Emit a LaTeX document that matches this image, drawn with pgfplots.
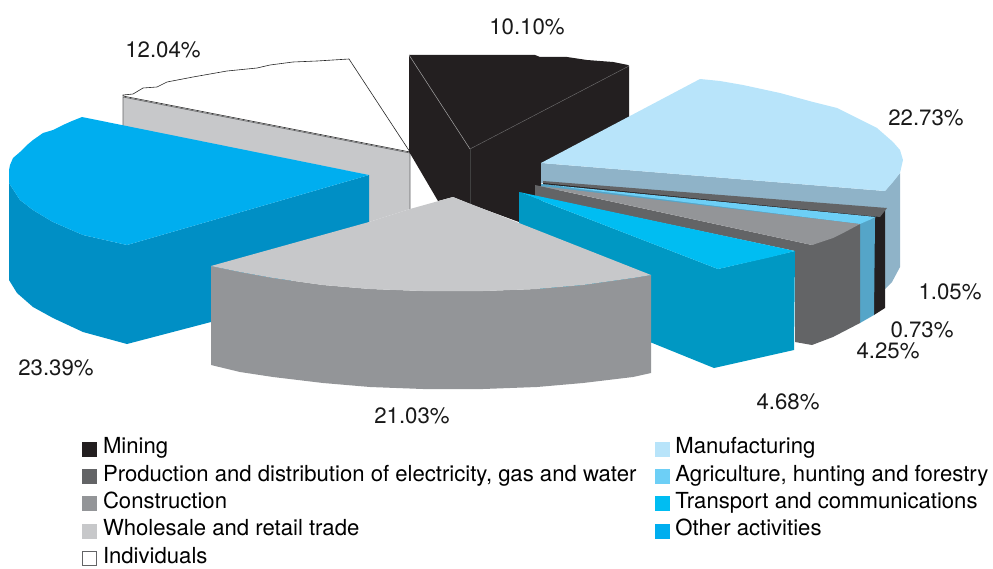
\documentclass[border=0pt]{standalone}
\usepackage{fontspec}
\setmainfont{TeX Gyre Heros}
\usepackage{pgfplots}
\pgfplotsset{compat=1.18}
\definecolor{cMining}{HTML}{231F20}
\definecolor{cManuf}{HTML}{B8E4FA}
\definecolor{cManufS}{HTML}{8FB3C8}
\definecolor{cProd}{HTML}{636466}
\definecolor{cAgri}{HTML}{6DCFF6}
\definecolor{cAgriS}{HTML}{55A5C8}
\definecolor{cCons}{HTML}{939598}
\definecolor{cTrans}{HTML}{00BDF2}
\definecolor{cTransS}{HTML}{0098C3}
\definecolor{cWhole}{HTML}{C7C8CA}
\definecolor{cOther}{HTML}{00AEEF}
\definecolor{cOtherS}{HTML}{008FC5}
\pgfplotsset{
  swatch/.style={legend image code/.code={
    \path[draw=none,fill=none] (0bp,0bp) -- (21bp,0bp);
    \draw[##1] (0.5bp,-7bp) rectangle (14.5bp,7bp);}},
}
\tikzset{pct/.style={font=\fontsize{22.3}{24}\selectfont,text=black!90,inner sep=0pt}}
\begin{document}
\begin{tikzpicture}
\begin{axis}[
  scale only axis,
  width=993bp, height=565bp,
  xmin=0, xmax=993, ymin=0, ymax=565,
  y dir=reverse,
  axis lines=none,
  clip=false,
  legend columns=2,
  legend cell align=left,
  legend style={
    at={(axis cs:82,438.7)}, anchor=north west,
    draw=none, fill=none, inner sep=0pt, outer sep=0pt,
    font=\fontsize{22.2}{24}\selectfont,
    nodes={inner sep=0pt, text height=15bp, text depth=5bp},
    row sep=7.4bp,
    /tikz/every even column/.append style={column sep=18bp},
  },
]
\path (rel axis cs:0,0) rectangle (rel axis cs:1,1);
% Individuals
\addplot[fill=white, draw=black!85, line width=0.6pt, forget plot] coordinates {
  (123,95) (133,94) (143,88) (157,87) (167,82) (193,77) (227,71) (257,68) (270,65)
  (293,62) (317,61) (349,59) (410,152) (123,96)} -- cycle;
% Wholesale back wall
\addplot[fill=cWhole, draw=none, forget plot] coordinates {
  (123,97) (410,153) (410,209) (369,222) (369,175) (123,127)} -- cycle;
\addplot[draw=cProd, line width=0.7pt, forget plot] coordinates {(123,127) (123,97) (410,153) (410,209)};
% Other activities
\addplot[fill=cOtherS, draw=none, forget plot] coordinates {
  (9,183) (20,200) (33,210) (53,222) (83,235) (127,245) (369,175) (369,240) (211,322) (127,344)
  (83,332) (53,318) (33,307) (17,293) (9,280)} -- cycle;
\addplot[fill=cOther, draw=none, forget plot] coordinates {
  (82,117) (369,175) (127,245) (83,235) (53,222) (33,210) (20,200) (9,183) (9,170) (10,165) (13,158)
  (20,152) (27,145) (33,140) (43,133) (53,130) (63,125) (72,121)} -- cycle;
% Mining
\addplot[fill=cMining, draw=none, forget plot] coordinates {
  (409,55) (535,55) (540,57) (567,57) (587,60) (613,62) (628,65) (629,66) (629,125) (541,165) (541,205)
  (519,205) (519,222) (470,204) (453,197) (438,201) (411,155) (409,152)} -- cycle;
\addplot[draw=white!65!black, line width=0.5pt, forget plot] coordinates {(409,55) (470,149)};
\addplot[draw=white!45!black, line width=0.4pt, forget plot] coordinates {(470,149) (629,66)};
\addplot[draw=white!25!black, line width=0.4pt, forget plot] coordinates {(470,149) (470,204)};
% Manufacturing
\addplot[fill=cManufS, draw=none, forget plot] coordinates {
  (541,163) (885,191) (900,173) (900,267) (892,282) (884,290) (884,209) (541,183)} -- cycle;
\addplot[fill=cManuf, draw=none, forget plot] coordinates {
  (541,163) (700,79) (720,81) (743,85) (780,93) (813,102) (837,108) (857,118) (877,128)
  (893,142) (900,150) (903,160) (900,173) (893,182) (885,191)} -- cycle;
% Production and distribution
\addplot[fill=cMining, draw=none, forget plot] coordinates {
  (874,216) (885,208) (885,308) (874,315)} -- cycle;
\addplot[fill=cMining, draw=none, forget plot] coordinates {
  (543,182) (877,216) (877,219) (543,185)} -- cycle;
\addplot[fill=cProd, draw=none, forget plot] coordinates {
  (543,181) (887,208) (880,217) (543,183)} -- cycle;
% Agriculture
\addplot[fill=cAgriS, draw=none, forget plot] coordinates {
  (860,222) (875,218) (874,315) (860,323)} -- cycle;
\addplot[fill=cAgriS, draw=none, forget plot] coordinates {
  (541,184) (860,222) (860,226) (541,188)} -- cycle;
\addplot[fill=cAgri, draw=none, forget plot] coordinates {
  (541,184) (876,217) (860,224)} -- cycle;
% Construction
\addplot[fill=cProd, draw=none, forget plot] coordinates {
  (535,185) (812,245) (860,224) (860,323) (833,337) (812,345) (795,342) (795,251) (535,196)} -- cycle;
\addplot[fill=cCons, draw=none, forget plot] coordinates {
  (540,186) (860,224) (845,232) (833,238) (812,245)} -- cycle;
% Transport
\addplot[fill=cTransS, draw=none, forget plot] coordinates {
  (519,192) (718,269) (795,251) (794,350) (714,368) (640,338) (519,280)} -- cycle;
\addplot[fill=cTrans, draw=none, forget plot] coordinates {
  (519,192) (795,251) (767,258) (740,264) (718,269)} -- cycle;
% Wholesale
\addplot[fill=cCons, draw=none, forget plot] coordinates {
  (211,266) (240,272) (273,278) (323,285) (370,289) (423,291) (483,291) (537,289) (583,285) (633,278) (651,275)
  (651,373) (633,377) (583,383) (537,387) (483,389) (423,389) (370,387) (323,383) (273,377) (240,372) (211,365)} -- cycle;
\addplot[fill=cWhole, draw=none, forget plot] coordinates {
  (453,197) (651,275) (633,278) (583,285) (537,289) (483,291) (423,291) (370,289) (323,285) (273,278)
  (240,272) (211,266) (369,222) (410,209)} -- cycle;
% legend
\addlegendimage{swatch, fill=cMining, draw=cMining}
\addlegendentry{Mining}
\addlegendimage{swatch, fill=cManuf, draw=cManuf}
\addlegendentry{Manufacturing}
\addlegendimage{swatch, fill=cProd, draw=cProd}
\addlegendentry{Production and distribution of electricity, gas and water}
\addlegendimage{swatch, fill=cAgri, draw=cAgri}
\addlegendentry{Agriculture, hunting and forestry}
\addlegendimage{swatch, fill=cCons, draw=cCons}
\addlegendentry{Construction}
\addlegendimage{swatch, fill=cTrans, draw=cTrans}
\addlegendentry{Transport and communications}
\addlegendimage{swatch, fill=cWhole, draw=cWhole}
\addlegendentry{Wholesale and retail trade}
\addlegendimage{swatch, fill=cOther, draw=cOther}
\addlegendentry{Other activities}
\addlegendimage{swatch, fill=white, draw=cProd}
\addlegendentry{Individuals}
% shares
\node[pct] at (axis cs:527,27) {10.10\%};
\node[pct] at (axis cs:163,50) {12.04\%};
\node[pct] at (axis cs:926,118) {22.73\%};
\node[pct] at (axis cs:950,292) {1.05\%};
\node[pct] at (axis cs:922,330) {0.73\%};
\node[pct] at (axis cs:888,351) {4.25\%};
\node[pct] at (axis cs:788,402) {4.68\%};
\node[pct] at (axis cs:412,416) {21.03\%};
\node[pct] at (axis cs:56,368) {23.39\%};
\end{axis}
\end{tikzpicture}
\end{document}
